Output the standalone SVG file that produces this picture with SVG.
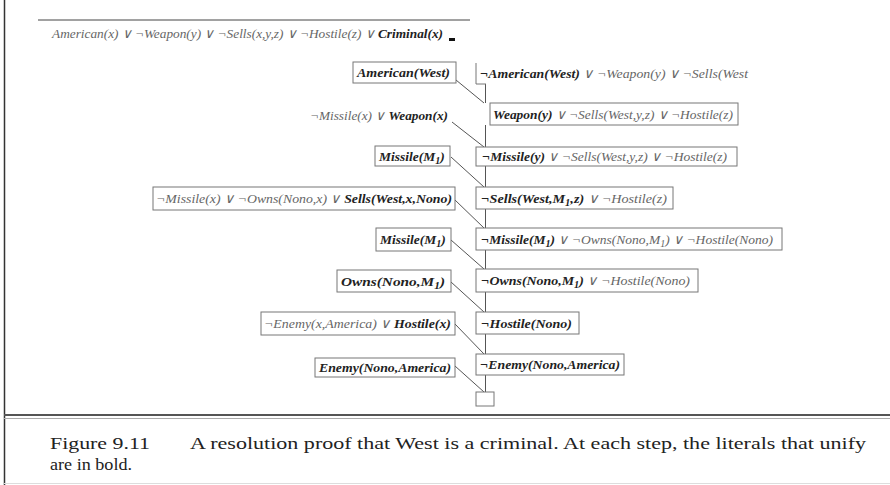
<svg xmlns="http://www.w3.org/2000/svg" width="890" height="485" viewBox="0 0 890 485">
<style>
.t{font-family:"Liberation Serif","Times New Roman",serif;font-style:italic;font-size:13.5px;fill:#666}
.b{font-weight:bold;fill:#222}
.box{fill:#fff;stroke:#777;stroke-width:1}
.c{stroke:#555;stroke-width:1;fill:none}
.cap{font-family:"Liberation Serif","Times New Roman",serif;font-size:17px;fill:#222}
</style>
<rect width="890" height="485" fill="#fff"/>
<line x1="4.5" y1="0" x2="4.5" y2="485" stroke="#333" stroke-width="1.5"/>
<line x1="38" y1="20" x2="470" y2="20" stroke="#444" stroke-width="1"/>
<line x1="4" y1="415" x2="890" y2="415" stroke="#555" stroke-width="2"/>
<line x1="4" y1="418.5" x2="890" y2="418.5" stroke="#aaa" stroke-width="1"/>
<line x1="4" y1="483.5" x2="890" y2="483.5" stroke="#ddd" stroke-width="1"/>

<g id="connectors">
<path class="c" d="M485.5 84V103M485.5 125V147M485.5 166V187M485.5 209V228M485.5 250V269M485.5 292V312M485.5 334V354M485.5 375V392"/>
<path class="c" d="M456 80L484 103M452 122L484 147M451 157L484 187M455 200L484 228M451 240L484 269M451 282L484 312M455 324L484 354M455 366L484 392"/>
</g>

<g id="top-clause">
<text class="t" x="52" y="38" textLength="391" lengthAdjust="spacingAndGlyphs">American(x) ∨ ¬Weapon(y) ∨ ¬Sells(x,y,z) ∨ ¬Hostile(z) ∨ <tspan class="b">Criminal(x)</tspan></text>
<rect x="449" y="38" width="6" height="3" fill="#111"/>
</g>

<g id="r1">
<path d="M476 63V84H486" class="box" fill="none"/>
<text class="t" x="480" y="78" textLength="268" lengthAdjust="spacingAndGlyphs"><tspan class="b">¬American(West)</tspan> ∨ ¬Weapon(y) ∨ ¬Sells(West</text>
</g>
<g id="r2">
<rect class="box" x="490" y="103" width="248" height="22"/>
<text class="t" x="493" y="119" textLength="240" lengthAdjust="spacingAndGlyphs"><tspan class="b">Weapon(y)</tspan> ∨ ¬Sells(West,y,z) ∨ ¬Hostile(z)</text>
</g>
<g id="r3">
<rect class="box" x="476" y="147" width="261" height="19"/>
<text class="t" x="482" y="161" textLength="245" lengthAdjust="spacingAndGlyphs"><tspan class="b">¬Missile(y)</tspan> ∨ ¬Sells(West,y,z) ∨ ¬Hostile(z)</text>
</g>
<g id="r4">
<rect class="box" x="476" y="187" width="197" height="22"/>
<text class="t" x="481" y="203" textLength="186" lengthAdjust="spacingAndGlyphs"><tspan class="b">¬Sells(West,M<tspan dy="3" font-size="10">1</tspan><tspan dy="-3">,z)</tspan></tspan> ∨ ¬Hostile(z)</text>
</g>
<g id="r5">
<rect class="box" x="476" y="228" width="306" height="22"/>
<text class="t" x="481" y="244" textLength="292" lengthAdjust="spacingAndGlyphs"><tspan class="b">¬Missile(M<tspan dy="3" font-size="10">1</tspan><tspan dy="-3">)</tspan></tspan> ∨ ¬Owns(Nono,M<tspan dy="3" font-size="10">1</tspan><tspan dy="-3">) ∨ ¬Hostile(Nono)</tspan></text>
</g>
<g id="r6">
<rect class="box" x="476" y="269" width="222" height="23"/>
<text class="t" x="481" y="285" textLength="209" lengthAdjust="spacingAndGlyphs"><tspan class="b">¬Owns(Nono,M<tspan dy="3" font-size="10">1</tspan><tspan dy="-3">)</tspan></tspan> ∨ ¬Hostile(Nono)</text>
</g>
<g id="r7">
<rect class="box" x="476" y="312" width="103" height="22"/>
<text class="t b" x="481" y="328" textLength="91" lengthAdjust="spacingAndGlyphs">¬Hostile(Nono)</text>
</g>
<g id="r8">
<rect class="box" x="476" y="354" width="148" height="21"/>
<text class="t b" x="480" y="369" textLength="140" lengthAdjust="spacingAndGlyphs">¬Enemy(Nono,America)</text>
</g>
<g id="empty">
<rect class="box" x="476" y="392" width="18" height="14" stroke="#444"/>
</g>

<g id="l1">
<rect class="box" x="353" y="62" width="103" height="21"/>
<text class="t b" x="357" y="77" textLength="93" lengthAdjust="spacingAndGlyphs">American(West)</text>
</g>
<g id="l2">
<text class="t" x="310" y="120" textLength="138" lengthAdjust="spacingAndGlyphs">¬Missile(x) ∨ <tspan class="b">Weapon(x)</tspan></text>
</g>
<g id="l3">
<rect class="box" x="375" y="146" width="75" height="20"/>
<text class="t b" x="379" y="161">Missile(M<tspan dy="3" font-size="10">1</tspan><tspan dy="-3">)</tspan></text>
</g>
<g id="l4">
<rect class="box" x="153" y="187" width="302" height="23"/>
<text class="t" x="156" y="203" textLength="296" lengthAdjust="spacingAndGlyphs">¬Missile(x) ∨ ¬Owns(Nono,x) ∨ <tspan class="b">Sells(West,x,Nono)</tspan></text>
</g>
<g id="l5">
<rect class="box" x="376" y="228" width="75" height="23"/>
<text class="t b" x="380" y="244">Missile(M<tspan dy="3" font-size="10">1</tspan><tspan dy="-3">)</tspan></text>
</g>
<g id="l6">
<rect class="box" x="337" y="270" width="114" height="22"/>
<text class="t b" x="341" y="286" textLength="104" lengthAdjust="spacingAndGlyphs">Owns(Nono,M<tspan dy="3" font-size="10">1</tspan><tspan dy="-3">)</tspan></text>
</g>
<g id="l7">
<rect class="box" x="261" y="312" width="194" height="23"/>
<text class="t" x="264" y="328" textLength="187" lengthAdjust="spacingAndGlyphs">¬Enemy(x,America) ∨ <tspan class="b">Hostile(x)</tspan></text>
</g>
<g id="l8">
<rect class="box" x="315" y="358" width="140" height="19"/>
<text class="t b" x="319" y="372" textLength="132" lengthAdjust="spacingAndGlyphs">Enemy(Nono,America)</text>
</g>

<g id="caption">
<text class="cap" x="50" y="449" textLength="100" lengthAdjust="spacingAndGlyphs">Figure 9.11</text>
<text class="cap" x="190" y="449" textLength="676" lengthAdjust="spacingAndGlyphs">A resolution proof that West is a criminal. At each step, the literals that unify</text>
<text class="cap" x="50" y="470" textLength="82" lengthAdjust="spacingAndGlyphs">are in bold.</text>
</g>
</svg>
